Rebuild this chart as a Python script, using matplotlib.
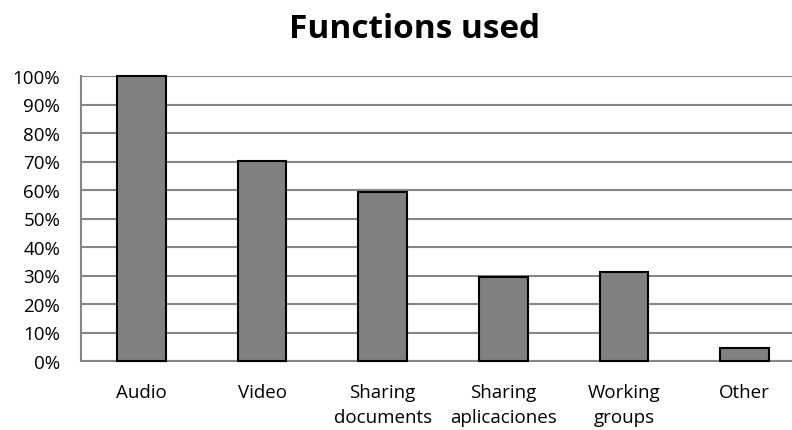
import matplotlib
matplotlib.use("Agg")
import matplotlib.pyplot as plt
from matplotlib.ticker import PercentFormatter


categories = ["Audio", "Video", "Sharing\ndocuments", "Sharing\naplicaciones",
              "Working\ngroups", "Other"]
values = [100.0, 70.3, 59.3, 29.6, 31.2, 4.7]
y_ticks = list(range(0, 101, 10))

plt.rcParams["font.family"] = ["Open Sans", "DejaVu Sans"]


def main() -> None:
  fig = plt.figure(figsize=(7.92, 4.31), dpi=100)
  ax = fig.add_axes([81 / 792, 69 / 431, 724 / 792, 285 / 431])

  x = list(range(len(categories)))
  bars = ax.bar(x, values, width=0.405, color="#808080", edgecolor="black",
                linewidth=1.5, zorder=3)
  for b in bars:
    b.set_clip_on(False)

  ax.set_xlim(-0.5, len(categories) - 0.5)
  ax.set_ylim(0, 100)
  ax.set_yticks(y_ticks)
  ax.yaxis.set_major_formatter(PercentFormatter(decimals=0))
  ax.set_xticks(x)
  ax.set_xticklabels(categories, linespacing=1.45)

  ax.grid(axis="y", color="#868686", linewidth=1.5, zorder=0)
  for side in ["top", "right"]:
    ax.spines[side].set_visible(False)
  for side in ["left", "bottom"]:
    ax.spines[side].set_color("#868686")
    ax.spines[side].set_linewidth(1.5)

  ax.tick_params(axis="both", length=0, labelsize=13.5, colors="black")
  ax.tick_params(axis="y", pad=15)
  ax.tick_params(axis="x", pad=16)

  fig.text(415 / 792, 1 - 29 / 431, "Functions used", ha="center",
           va="center", fontsize=24, fontweight="bold")

  fig.savefig("out.png", dpi=100)
  plt.close(fig)


if __name__ == "__main__":
  main()
